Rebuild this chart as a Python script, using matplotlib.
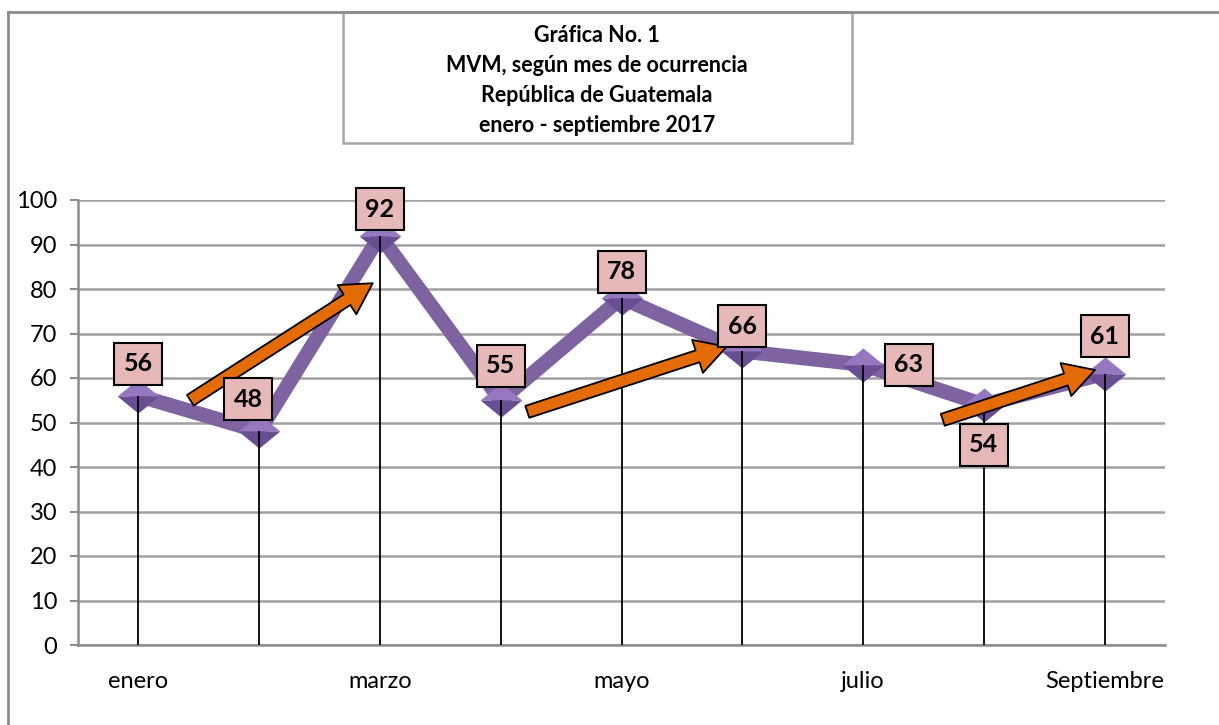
import numpy as np
import matplotlib.pyplot as plt
from matplotlib.patches import Rectangle, FancyArrowPatch
from matplotlib.lines import Line2D

# data
meses = ['enero', 'febrero', 'marzo', 'abril', 'mayo', 'junio', 'julio', 'agosto', 'Septiembre']
casos = [56, 48, 92, 55, 78, 66, 63, 54, 61]
etiquetas = ['enero', '', 'marzo', '', 'mayo', '', 'julio', '', 'Septiembre']
yticks = [0, 10, 20, 30, 40, 50, 60, 70, 80, 90, 100]
# label offsets (points) for each data label
label_dx = [0, -8, 0, 0, 0, 0, 33, 0, 0]
label_dy = [23, 23, 19, 25, 19, 18, 0, -29, 27]
# arrows (tail, head) in data coords
flechas = [((0.43, 55.0), (1.94, 81.3)),
           ((3.22, 52.4), (4.87, 67.0)),
           ((6.66, 50.6), (7.92, 61.8))]

titulo = ['Gráfica No. 1', 'MVM, según mes de ocurrencia',
          'República de Guatemala', 'enero - septiembre 2017']

plt.rcParams['font.family'] = ['Lato', 'DejaVu Sans']

fig = plt.figure(figsize=(12.19, 7.25), dpi=100)
ax = fig.add_axes([78/1219, 1-645/725, 1087/1219, 445/725])

x = np.arange(len(casos))

ax.set_xlim(-0.5, len(casos)-0.5)
ax.set_ylim(0, 100)
ax.set_yticks(yticks)
ax.set_yticklabels([str(t) for t in yticks], fontsize=17)
ax.set_xticks(x)
ax.set_xticklabels(etiquetas, fontsize=17)
ax.tick_params(axis='y', length=6, width=1.5, color='#8c8c8c', pad=9)
ax.tick_params(axis='x', length=0, pad=19)
ax.grid(axis='y', color='#a0a0a0', linewidth=1.8, zorder=0)
for s in ['top', 'right']:
    ax.spines[s].set_visible(False)
for s in ['left', 'bottom']:
    ax.spines[s].set_color('#8c8c8c')
    ax.spines[s].set_linewidth(1.8)

# drop lines
ax.vlines(x, 0, casos, color='black', linewidth=1.3, zorder=5)

# main line
ax.plot(x, casos, color='#7f63a1', linewidth=10.5, solid_joinstyle='miter', zorder=3)

# diamond markers with simple shading
top_half = [(-1, 0), (0, 0.82), (1, 0), (-1, 0)]
bot_half = [(-1, 0), (0, -0.82), (1, 0), (-1, 0)]
ax.plot(x, casos, linestyle='none', marker=top_half, markersize=30,
        markerfacecolor='#9578c0', markeredgewidth=0, zorder=4)
ax.plot(x, casos, linestyle='none', marker=bot_half, markersize=30,
        markerfacecolor='#6a4e93', markeredgewidth=0, zorder=4)

# arrows
for (tail, head) in flechas:
    arr = FancyArrowPatch(tail, head,
                          arrowstyle='simple,head_length=1.1,head_width=1.25,tail_width=0.45',
                          mutation_scale=20, facecolor='#e36c09', edgecolor='black',
                          linewidth=1.3, shrinkA=0, shrinkB=0, zorder=7)
    ax.add_patch(arr)

# data labels
for i, v in enumerate(casos):
    ax.annotate(str(v), (x[i], v), xytext=(label_dx[i], label_dy[i]),
                textcoords='offset points', ha='center', va='center',
                fontsize=18, fontweight='bold', zorder=8,
                bbox=dict(boxstyle='square,pad=0.38', facecolor='#e6b9b8',
                          edgecolor='black', linewidth=1.5))

# outer frame (left and top visible)
fig.add_artist(Line2D([8/1219, 8/1219], [0, 1-12/725], color='#8c8c8c', linewidth=2))
fig.add_artist(Line2D([8/1219, 1], [1-12/725, 1-12/725], color='#8c8c8c', linewidth=2))

# title box
fig.add_artist(Rectangle((343/1219, 1-143/725), 509/1219, 131/725,
                         transform=fig.transFigure, facecolor='white',
                         edgecolor='#a6a6a6', linewidth=1.8))
ys = [35, 65, 96, 126]
for t, yy in zip(titulo, ys):
    fig.text(597/1219, 1-yy/725, t, ha='center', va='center',
             fontsize=15.5, fontweight='bold')

fig.savefig('out.png', dpi=100)
